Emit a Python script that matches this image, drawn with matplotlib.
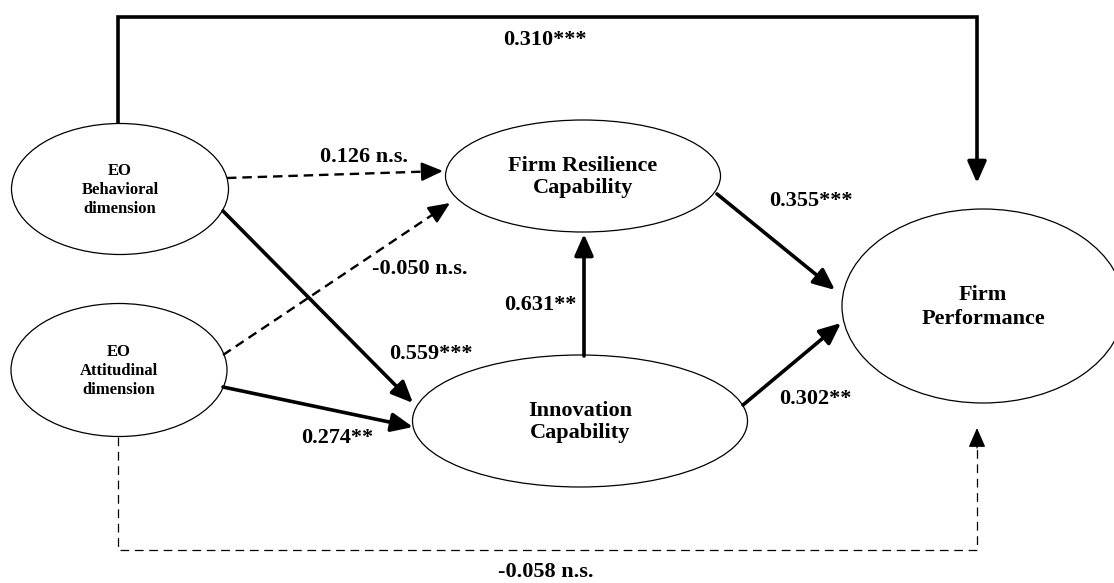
import numpy as np
import matplotlib.pyplot as plt
from matplotlib.patches import Ellipse

# constructs in the model
nodes = ['EO\nBehavioral\ndimension', 'EO\nAttitudinal\ndimension',
         'Firm Resilience\nCapability', 'Innovation\nCapability', 'Firm\nPerformance']
# path coefficients (from, to, label, significant)
paths = [
    ('beh', 'res', '0.126 n.s.', False),
    ('att', 'res', '-0.050 n.s.', False),
    ('beh', 'inn', '0.559***', True),
    ('att', 'inn', '0.274**', True),
    ('inn', 'res', '0.631**', True),
    ('res', 'perf', '0.355***', True),
    ('inn', 'perf', '0.302**', True),
    ('beh', 'perf', '0.310***', True),
    ('att', 'perf', '-0.058 n.s.', False),
]

# layout in pixel coords (x, y, width, height)
keys = ['beh', 'att', 'res', 'inn', 'perf']
boxes = {'beh': (120, 189, 217, 131), 'att': (119, 370, 216, 133),
         'res': (583, 176, 275, 112), 'inn': (580, 421, 335, 132),
         'perf': (983, 306, 282, 194)}
sizes = {'beh': 12, 'att': 12, 'res': 16, 'inn': 16, 'perf': 16}
spacing = {'beh': 1.22, 'att': 1.22, 'res': 1.18, 'inn': 1.18, 'perf': 1.22}

# arrow start / end points
ends = {
    ('beh', 'res'): ((227, 178), (443, 171)),
    ('att', 'res'): ((223, 355), (450, 203)),
    ('beh', 'inn'): ((223, 211), (413, 403)),
    ('att', 'inn'): ((223, 387), (413, 427)),
    ('inn', 'res'): ((584, 356), (584, 234)),
    ('res', 'perf'): ((717, 194), (835, 290)),
    ('inn', 'perf'): ((743, 405), (841, 323)),
}
label_pos = {
    ('beh', 'res'): (364, 157), ('att', 'res'): (420, 269),
    ('beh', 'inn'): (431, 354), ('att', 'inn'): (337, 438),
    ('inn', 'res'): (540, 305), ('res', 'perf'): (811, 201),
    ('inn', 'perf'): (815, 399), ('beh', 'perf'): (545, 40),
    ('att', 'perf'): (546, 572),
}

fig = plt.figure(figsize=(11.14, 5.83), dpi=100)
ax = fig.add_axes([0, 0, 1, 1])
ax.set_xlim(0, 1114)
ax.set_ylim(583, 0)
ax.axis('off')

font = 'Liberation Serif'
thick = 2.6
head = '-|>,head_length=0.5,head_width=0.22'


def arrow(x0, y0, x1, y1, lw, dashed=False, ms=26):
    if dashed:
        d = np.array([x1 - x0, y1 - y0], dtype=float)
        d /= np.hypot(*d)
        bx, by = x1 - 14 * d[0], y1 - 14 * d[1]
        ax.plot([x0, bx], [y0, by], color='black', lw=lw, ls=(0, (4, 2.5)),
                dash_capstyle='butt')
        x0, y0 = bx - 2 * d[0], by - 2 * d[1]
    ax.annotate('', xy=(x1, y1), xytext=(x0, y0),
                arrowprops=dict(arrowstyle=head, lw=lw, color='black',
                                mutation_scale=ms, shrinkA=0, shrinkB=0))


for k, name in zip(keys, nodes):
    x, y, w, h = boxes[k]
    ax.add_patch(Ellipse((x, y), w, h, facecolor='white', edgecolor='black', lw=0.9, zorder=2))
    ax.text(x, y + 1, name, ha='center', va='center', fontsize=sizes[k], fontweight='bold',
            family=font, linespacing=spacing[k], zorder=3)

for src, dst, lab, sig in paths:
    key = (src, dst)
    if key in ends:
        (x0, y0), (x1, y1) = ends[key]
        arrow(x0, y0, x1, y1, thick if sig else 1.7, dashed=not sig)
    elif src == 'beh':
        ax.plot([118, 118, 977, 977], [123, 17, 17, 165], color='black', lw=thick,
                solid_joinstyle='miter', solid_capstyle='butt')
        arrow(977, 160, 977, 183, thick)
    else:
        ax.plot([118, 118, 977, 977], [437, 550, 550, 445], color='black', lw=0.9,
                ls=(0, (7, 4.5)))
        arrow(977, 448, 977, 428, 0.9, ms=24)
    lx, ly = label_pos[key]
    ax.text(lx, ly, lab, ha='center', va='center', fontsize=16, fontweight='bold', family=font)

fig.savefig('out.png', dpi=100, facecolor='white')
